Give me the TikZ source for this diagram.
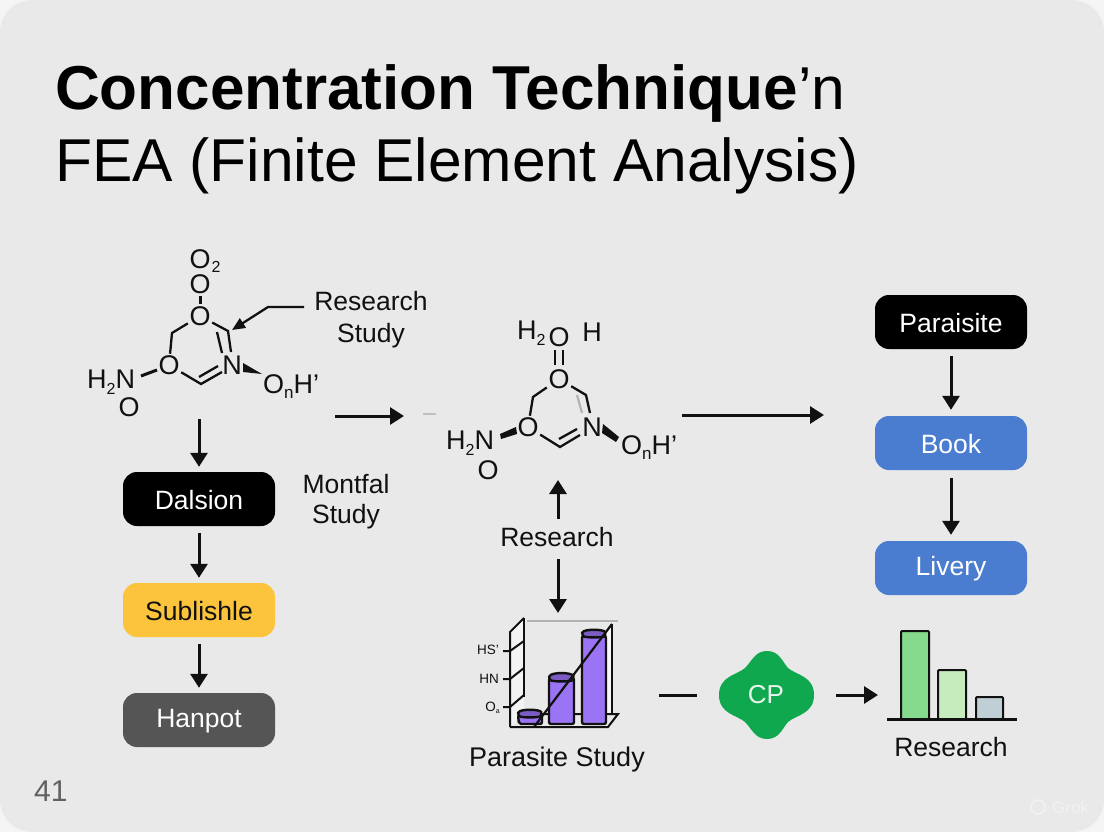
\documentclass[tikz,border=0pt]{standalone}
\usepackage{fontspec}
\setmainfont{Liberation Sans}
\usetikzlibrary{arrows.meta}
\definecolor{bgpage}{HTML}{E9E9E9}
\definecolor{bgcorner}{HTML}{F5F5F5}
\definecolor{ink}{HTML}{111111}
\definecolor{bluebox}{HTML}{4A7DD0}
\definecolor{yellowbox}{HTML}{FCC33C}
\definecolor{greybox}{HTML}{555555}
\definecolor{purplebar}{HTML}{9B73F5}
\definecolor{greenblob}{HTML}{0FA84E}
\newcommand{\fs}[1]{\fontsize{#1}{#1}\selectfont}
\tikzset{
  x=1pt,y=-1pt,
  arr/.style={draw=ink,line width=3pt,-{Triangle[length=14pt,width=17pt]}},
  plainline/.style={draw=ink,line width=3pt},
  bond/.style={draw=ink,line width=2.3pt},
  wedge/.style={fill=ink,draw=none},
  label/.style={text=ink,font=\fs{26.5},inner sep=0pt,align=center},
  atom/.style={text=ink,font=\fs{27},inner sep=1.5pt},
  atomtext/.style={text=ink,font=\fs{27},inner sep=0pt,anchor=base west},
  flowbox/.style={rounded corners=14pt,minimum width=152pt,minimum height=54pt,inner sep=0pt,text=white},
  boxtext/.style={inner sep=0pt,font=\fs{26.5},text=white},
  barbox/.style={draw=ink,line width=2pt,rounded corners=1pt},
  cylbar/.style={fill=purplebar,draw=ink,line width=2.4pt,rounded corners=2pt},
  tickl/.style={draw=ink,line width=2pt},
  axlabel/.style={text=ink,font=\fs{13.5},inner sep=0pt,anchor=east},
}
\begin{document}
\begin{tikzpicture}
\useasboundingbox (0,0) rectangle (1104,832);
\fill[bgcorner] (0,0) rectangle (1104,832);
\fill[bgpage,rounded corners=32pt] (0,0) rectangle (1104,832);

% title
\node[anchor=base west,inner sep=0pt,text=black,font=\fs{62}] (t1) at (55,110) {\textbf{Concentration Technique}\fs{60.5}’n};
\node[anchor=base west,inner sep=0pt,text=black,font=\fs{60.5}] (t2) at (55,182) {FEA (Finite Element Analysis)};
\node[anchor=base west,inner sep=0pt,text=black!62,font=\fs{30}] (pg) at (34,801) {41};
\node[anchor=base west,inner sep=0pt,text=bgpage!60!white,font=\fs{17}] (wm) at (1052,813) {Grok};
\node[circle,draw=bgpage!60!white,line width=1.5pt,minimum size=14pt,inner sep=0pt] (wmc) at (1038,807) {};

% ---- molecule 1
\node[atom] (a1) at (200,259) {O};
\node[inner sep=0pt,text=ink,font=\fs{16}] (a1s) at (216,267) {2};
\node[atom] (a2) at (200,284) {O};
\node[atom] (a3) at (200,316) {O};
\node[atom] (a4) at (169,365) {O};
\node[atom] (a5) at (232,365) {N};
\node[atomtext] (a6) at (87,388) {H\raisebox{-6pt}{\fs{16}2}N};
\node[atom] (a7) at (129,407) {O};
\node[atomtext] (a8) at (263,393) {O\raisebox{-5pt}{\fs{17}n}H'};
\coordinate (b1) at (200,296); \coordinate (b2) at (200,304);
\coordinate (b3) at (172,333); \coordinate (b4) at (228,331);
\coordinate (b5) at (201,384); \coordinate (b6) at (217,332);
\coordinate (b7) at (222,353); \coordinate (b8) at (199,377);
\coordinate (b9) at (218,366); \coordinate (b10) at (141,376);
\coordinate (b11) at (157,370); \coordinate (b12) at (231,352);
\coordinate (b13) at (222,372);
\draw[bond,line width=3pt] (b1) -- (b2);
\draw[bond] (a3) -- (b3) -- (a4);
\draw[bond] (a3) -- (b4) -- (b12);
\draw[bond] (b6) -- (b7);
\draw[bond] (a4) -- (b5) -- (b13);
\draw[bond] (b8) -- (b9);
\draw[bond,line width=3pt] (b10) -- (b11);
\coordinate (w1a) at (243,363); \coordinate (w1b) at (262,374); \coordinate (w1c) at (243,372);
\fill[wedge] (w1a) -- (w1b) -- (w1c) -- cycle;
% callout
\node[label] (rs) at (371,319.5) {Research\\[6pt]Study};
\coordinate (c1) at (304,307); \coordinate (c2) at (268,307); \coordinate (c3) at (232,330);
\draw[draw=ink,line width=2.3pt,-{Triangle[length=13pt,width=11pt]}] (c1) -- (c2) -- (c3);

% ---- arrows between groups
\coordinate (d1) at (335,416); \coordinate (d2) at (404,416);
\draw[arr] (d1) -- (d2);
\coordinate (d3) at (423,414); \coordinate (d4) at (436,414);
\draw[draw=black!25,line width=1.6pt] (d3) -- (d4);
\coordinate (d5) at (682,415); \coordinate (d6) at (824,415);
\draw[arr] (d5) -- (d6);

% ---- molecule 2
\node[atomtext] (m1) at (517,339) {H\raisebox{-6pt}{\fs{16}2}};
\node[atom] (m2) at (559,337) {O};
\node[atom] (m3) at (592,332) {H};
\node[atom] (m4) at (559,379) {O};
\node[atom] (m5) at (528,427) {O};
\node[atom] (m6) at (592,427) {N};
\node[atomtext] (m7) at (446,449) {H\raisebox{-6pt}{\fs{16}2}N};
\node[atom] (m8) at (488,470) {O};
\node[atomtext] (m9) at (621,454) {O\raisebox{-5pt}{\fs{17}n}H'};
\coordinate (e1) at (555,350); \coordinate (e2) at (555,365);
\coordinate (e3) at (563,350); \coordinate (e4) at (563,365);
\coordinate (e5) at (533,397); \coordinate (e6) at (586,395);
\coordinate (e7) at (590,413); \coordinate (e8) at (577,395);
\coordinate (e9) at (582,413); \coordinate (e10) at (560,447);
\coordinate (e11) at (580,435); \coordinate (e12) at (559,439);
\coordinate (e13) at (577,429);
\draw[bond] (e1) -- (e2);
\draw[bond] (e3) -- (e4);
\draw[bond] (m4) -- (e5) -- (m5);
\draw[bond] (m4) -- (e6) -- (e7);
\draw[draw=black!30,line width=2.2pt] (e8) -- (e9);
\draw[bond] (m5) -- (e10) -- (e11);
\draw[bond] (e12) -- (e13);
\coordinate (w2a) at (500,434); \coordinate (w2b) at (516,427); \coordinate (w2c) at (517,434); \coordinate (w2d) at (501,439);
\fill[wedge] (w2a) -- (w2b) -- (w2c) -- (w2d) -- cycle;
\coordinate (w3a) at (603,424); \coordinate (w3b) at (619,437); \coordinate (w3c) at (616,442); \coordinate (w3d) at (602,433);
\fill[wedge] (w3a) -- (w3b) -- (w3c) -- (w3d) -- cycle;

% ---- middle labels and arrows
\node[label] (mf) at (346,501.5) {Montfal\\[4pt]Study};
\node[label] (r1) at (557,537) {Research};
\coordinate (f1) at (558,519); \coordinate (f2) at (558,480);
\draw[arr] (f1) -- (f2);
\coordinate (f3) at (558,559); \coordinate (f4) at (558,613);
\draw[arr] (f3) -- (f4);

% ---- left column
\node[flowbox,fill=black] (dal) at (199,499) {};
\node[flowbox,fill=yellowbox] (sub) at (199,610) {};
\node[flowbox,fill=greybox] (han) at (199,720) {};
\node[boxtext] (dalt) at (199,500) {Dalsion};
\node[boxtext,text=ink] (subt) at (199,611) {Sublishle};
\node[boxtext] (hant) at (199,721.5) {Hanpot};
\coordinate (g1) at (199,419);
\draw[arr,shorten >=5pt] (g1) -- (dal);
\draw[arr,shorten <=7pt,shorten >=5pt] (dal) -- (sub);
\draw[arr,shorten <=7pt,shorten >=5pt] (sub) -- (han);

% ---- right column
\node[flowbox,fill=black] (par) at (951,322) {};
\node[flowbox,fill=bluebox] (boo) at (951,443) {};
\node[flowbox,fill=bluebox] (liv) at (951,568) {};
\node[boxtext] (part) at (951,323) {Paraisite};
\node[boxtext] (boot) at (951,444) {Book};
\node[boxtext] (livt) at (951,569) {Livery};
\draw[arr,shorten <=7pt,shorten >=6pt] (par) -- (boo);
\draw[arr,shorten <=8pt,shorten >=6pt] (boo) -- (liv);

% ---- 3D chart
\fill[white!70!bgpage] (612,624) -- (612,714) -- (606,714) -- (606,630) -- cycle;
\fill[white!45!bgpage] (510,632) -- (524,618) -- (524,714) -- (510,727) -- cycle;
\draw[draw=black!30,line width=1.4pt] (527,621) -- (618,621);
\draw[tickl] (524,618) -- (510,632) -- (510,727);
\draw[tickl] (524,618) -- (524,697);
\draw[tickl] (612,624) -- (612,714);
\draw[tickl] (503,651) -- (510,651) -- (524,641);
\draw[tickl] (503,679) -- (510,679) -- (524,668);
\draw[tickl] (503,707) -- (510,707) -- (524,695);
\draw[tickl] (510,727) -- (608,727) -- (618,714) -- (524,714);
\draw[cylbar] (519,724) -- (518,715) -- (542,715) -- (542,724) -- cycle;
\draw[cylbar,fill=purplebar!80!black] (518,714) .. controls (520,709) and (540,709) .. (542,714) .. controls (540,718) and (520,718) .. (518,714) -- cycle;
\draw[cylbar] (549,678) rectangle (574,724);
\draw[cylbar,fill=purplebar!80!black] (549,678) .. controls (551,672) and (572,672) .. (574,678) .. controls (572,682) and (551,682) .. (549,678) -- cycle;
\draw[cylbar] (582,636) rectangle (606,724);
\draw[cylbar,fill=purplebar!80!black] (582,634) .. controls (584,629) and (604,629) .. (606,634) .. controls (604,638) and (584,638) .. (582,634) -- cycle;
\draw[draw=ink,line width=2.2pt] (534,727) -- (612,624);
\node[axlabel] (hs) at (499,650) {HS'};
\node[axlabel] (hn) at (499,679) {HN};
\node[axlabel] (oa) at (500,708) {O\raisebox{-2pt}{\fs{7}a}};
\node[label,font=\fs{27}] (ps) at (557,760) {Parasite Study};

% ---- CP blob
\fill[greenblob] (767,651) .. controls (779,651) and (782,661) .. (788,668)
  .. controls (796,675) and (814,676) .. (814,695)
  .. controls (814,714) and (796,715) .. (788,722)
  .. controls (782,729) and (779,739) .. (767,739)
  .. controls (755,739) and (752,729) .. (745,722)
  .. controls (737,715) and (719,714) .. (719,695)
  .. controls (719,676) and (737,675) .. (745,668)
  .. controls (752,661) and (755,651) .. (767,651) -- cycle;
\node[inner sep=0pt,text=white!90!greenblob,font=\fs{26}] (cp) at (766,695) {CP};
\coordinate (h1) at (659,695); \coordinate (h2) at (697,695);
\draw[plainline] (h1) -- (h2);
\coordinate (h3) at (836,695); \coordinate (h4) at (878,695);
\draw[arr] (h3) -- (h4);

% ---- bar chart
\draw[barbox,fill={rgb,255:red,133;green,218;blue,141}] (901,631) rectangle (929,719);
\draw[barbox,fill={rgb,255:red,198;green,236;blue,190}] (938,670) rectangle (966,719);
\draw[barbox,fill={rgb,255:red,192;green,207;blue,214}] (976,697) rectangle (1003,719);
\draw[draw=ink,line width=2.4pt] (887,719.5) -- (1017,719.5);
\node[label] (r2) at (951,747) {Research};
\end{tikzpicture}
\end{document}
